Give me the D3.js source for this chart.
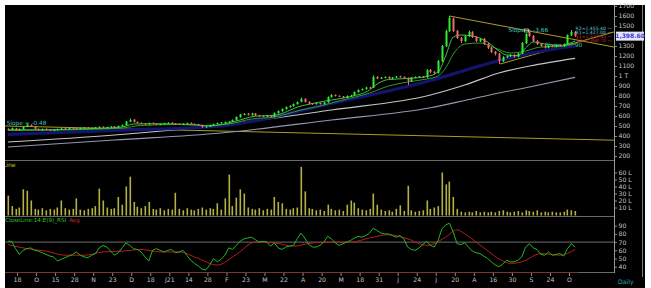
<!DOCTYPE html>
<html>
<head>
<meta charset="utf-8">
<script src="https://cdn.jsdelivr.net/npm/d3@7"></script>
<style>
body { margin: 0; background: #fff; }
svg { display: block; font-family: "DejaVu Sans", Verdana, sans-serif; }
</style>
</head>
<body>
<script>
// daily candles, oldest first (price in rupees)
var opens = [470,462,478,458,468,492,512,498,472,458,
    472,466,452,458,468,478,468,482,480,470,
    478,487,476,480,486,494,483,488,497,486,
    498,508,542,565,542,532,527,518,532,527,
    513,518,526,534,527,522,516,523,532,522,
    517,510,488,493,508,518,528,533,538,543,
    558,588,612,624,608,627,607,602,593,607,
    592,628,648,668,688,698,718,742,772,742,
    727,718,732,718,737,788,812,802,797,783,
    798,807,838,858,868,887,885,992,973,983,
    992,973,983,997,992,982,948,983,988,997,
    987,1062,1042,1032,1148,1298,1448,1575,1452,1382,
    1348,1398,1442,1392,1348,1372,1322,1282,1242,1222,
    1148,1188,1198,1212,1193,1223,1328,1440,1402,1352,
    1322,1302,1283,1302,1293,1312,1298,1318,1408,1442];
var highs = [478,485,482,475,495,520,515,500,475,475,
    476,468,463,474,480,480,484,485,482,484,
    490,490,486,492,496,496,494,499,500,504,
    515,550,575,568,545,535,530,534,535,530,
    524,532,537,537,530,525,528,534,535,525,
    520,512,500,514,524,534,540,545,550,566,
    596,620,630,628,632,630,612,606,610,610,
    636,656,676,696,708,726,746,785,776,746,
    730,735,736,740,796,818,815,806,800,806,
    812,846,866,876,892,892,1005,998,990,996,
    995,990,1000,1002,995,985,990,996,1000,1000,
    1068,1070,1048,1160,1310,1465,1600,1585,1460,1390,
    1410,1455,1448,1398,1380,1380,1330,1290,1250,1230,
    1198,1206,1218,1218,1232,1340,1430,1450,1408,1358,
    1328,1308,1306,1308,1316,1316,1326,1416,1460,1448];
var lows = [458,458,450,454,464,488,496,466,455,455,
    460,450,448,455,465,465,465,474,468,467,
    475,474,473,477,483,481,480,484,484,482,
    495,505,538,535,525,520,515,515,520,510,
    508,515,522,520,515,512,512,520,516,510,
    503,482,485,490,505,515,525,530,535,540,
    555,585,608,604,604,600,595,588,590,585,
    588,624,644,664,684,694,714,738,735,718,
    712,714,715,714,733,784,795,790,778,780,
    794,803,834,854,864,872,880,968,970,978,
    968,968,980,984,975,910,940,978,984,980,
    982,1030,1020,1025,1140,1290,1440,1440,1370,1330,
    1340,1390,1380,1340,1340,1310,1270,1230,1205,1120,
    1140,1180,1190,1185,1188,1218,1320,1390,1340,1310,
    1292,1275,1278,1288,1288,1295,1292,1312,1400,1392];
var closes = [465,480,455,470,490,515,500,470,460,470,
    465,455,460,470,475,470,480,478,472,480,
    485,478,482,488,492,485,490,495,488,500,
    510,545,560,540,530,525,520,530,525,515,
    520,528,532,525,520,518,525,530,520,515,
    508,490,495,510,520,530,535,540,545,560,
    590,615,620,610,625,605,600,595,605,590,
    630,650,670,690,700,720,740,770,740,725,
    720,730,720,735,790,810,800,795,785,800,
    805,840,860,870,885,880,990,975,985,990,
    975,985,995,990,980,950,985,990,995,985,
    1060,1040,1030,1150,1300,1450,1580,1450,1380,1350,
    1400,1440,1390,1350,1370,1320,1280,1240,1220,1150,
    1190,1200,1210,1195,1225,1330,1420,1400,1350,1320,
    1300,1285,1300,1295,1310,1300,1320,1410,1440,1399];

// volume in lakhs
var volumes = [27,12,8,10,36,34,20,8,7,9,
    6,8,7,10,20,9,7,8,23,7,
    6,8,9,12,37,20,10,8,9,25,
    14,40,54,18,11,9,12,18,8,7,
    9,6,8,7,31,8,6,9,7,6,
    8,10,7,9,8,16,7,23,57,12,
    24,36,30,10,8,7,9,6,8,7,
    25,18,16,8,7,9,10,68,33,9,
    8,6,7,5,14,8,6,7,5,14,
    20,17,9,7,6,8,30,14,7,5,
    6,4,8,13,5,41,6,4,5,6,
    20,8,10,12,60,43,47,25,8,4,
    3,4,3,5,3,4,3,4,3,5,
    6,4,3,4,5,3,6,5,4,6,
    3,4,3,4,3,3,4,7,6,5];

// RSI(14) per candle and its E(9) average, [candle, value]
var rsi = [71,71,62,55,60,62,63,60,59,57,
    55,53,52,47,49,51,53,55,58,54,
    52,51,54,56,63,66,64,59,54,57,
    63,69,66,62,61,58,52,47,60,62,
    60,58,60,61,57,58,60,54,48,44,
    41,37,36,42,50,46,49,54,63,61,
    66,71,74,75,76,73,70,71,70,65,
    69,63,61,64,65,66,74,81,75,67,
    64,64,66,70,77,74,69,66,68,70,
    72,75,77,76,78,81,87,84,81,80,
    80,78,76,78,74,64,61,60,63,67,
    71,66,64,72,86,91,93,82,68,67,
    69,64,59,57,56,53,50,46,42,40,
    43,48,46,46,48,52,64,68,63,61,
    55,54,58,54,55,56,53,62,68,64];
var rsiAvg = [[0,67],[5,62],[10,59],[15,54],[20,54],[25,58],[30,59],[35,61],[40,58],[45,58],
    [50,50],[55,42],[60,55],[65,70],[70,69],[75,65],[80,69],[85,70],[90,70],[95,75],
    [100,79],[105,74],[110,66],[115,76],[118,85],[120,80],[125,63],[130,47],[132,44],
    [135,46],[140,56],[145,54],[149,61]];

// moving averages, [candle, price]
var emaFast = [[0,462],[10,462],[20,472],[30,490],[33,520],[40,522],[50,510],[53,500],[60,550],
    [65,598],[70,607],[77,700],[80,725],[85,760],[90,795],[95,860],[97,920],[100,965],[105,975],
    [110,995],[113,1040],[115,1200],[117,1390],[119,1410],[122,1400],[126,1340],[129,1250],
    [131,1210],[134,1205],[136,1280],[138,1340],[141,1320],[145,1305],[149,1350]];
var emaSlow = [[0,455],[10,458],[20,465],[30,480],[35,505],[45,515],[52,505],[58,520],[64,570],
    [70,590],[77,660],[82,700],[88,760],[95,830],[100,900],[105,940],[110,970],[113,1000],
    [115,1080],[117,1220],[120,1320],[124,1330],[128,1280],[132,1230],[136,1250],[140,1290],
    [145,1295],[149,1320]];
var maBlue = [[0,415],[28,455],[56,500],[85,725],[111,955],[120,1055],[129,1155],[137,1225],[149,1300]];
var maWhite = [[0,340],[28,410],[56,510],[85,660],[111,810],[120,910],[129,1030],[137,1100],[149,1177]];
var maGrey = [[0,290],[28,360],[56,430],[85,560],[111,683],[120,755],[129,830],[137,890],[149,987]];

// drawn trend lines, [candle, price]
var trendLong = [[-0.7, 500], [159.2, 358]];
var trendTop = [[116, 1600], [159.2, 1290]];
var trendRise = [[129.3, 1120], [159.2, 1440]];

var pivotNames = ['R2', 'R1', 'S1', 'S2'];
var pivotValues = [1455.40, 1427.00, 1379.65, 1360.70];
var lastPrice = 1398.60;

// 1400 sits under the last price box
var priceTicks = [200,300,400,500,600,700,800,900,1000,1100,1200,1300,1500,1600,1700];
var volTicks = [10,20,30,40,50,60];
var rsiTicks = [40,50,60,70,80,90];
var tickLabels = ['18','O','15','28','N','23','D','18','J21','14','28','F','23','M','22',
    'A','20','M','18','31','J','24','J','20','A','16','30','S','24','O'];
var tickFirst = 2.4, tickStep = 5;

var width = 651, height = 288;
var axisX = 614;
var N = closes.length;

var svg = d3.select('body').append('svg')
    .attr('width', width)
    .attr('height', height);

svg.append('rect')
    .attr('x', 5).attr('y', 5)
    .attr('width', 640).attr('height', 283)
    .attr('fill', '#000');

// scales for the three panels
var x = d3.scaleLinear().domain([-0.5, N - 0.5]).range([6, 577]);
var yPrice = d3.scaleLinear().domain([200, 1700]).range([156, 6]);
var yVol = d3.scaleLinear().domain([0, 60]).range([214.5, 172.5]);
var yRsi = d3.scaleLinear().domain([40, 90]).range([266.7, 225.7]);

svg.append('clipPath').attr('id', 'pclip')
    .append('rect').attr('x', 5).attr('y', 5).attr('width', axisX - 5).attr('height', 155);

// panel separators and guide lines
svg.append('line').attr('x1', 5).attr('x2', axisX).attr('y1', 160.5).attr('y2', 160.5)
    .attr('stroke', '#6a6a6a');
svg.append('line').attr('x1', 5).attr('x2', axisX).attr('y1', 216.5).attr('y2', 216.5)
    .attr('stroke', '#6a6a6a');
svg.append('line').attr('x1', 5).attr('x2', axisX).attr('y1', yRsi(70)).attr('y2', yRsi(70))
    .attr('stroke', '#6e6e6e');
svg.append('line').attr('x1', 5).attr('x2', axisX).attr('y1', 272.5).attr('y2', 272.5)
    .attr('stroke', '#6a6a6a');
svg.append('line').attr('x1', axisX + 0.5).attr('x2', axisX + 0.5).attr('y1', 5).attr('y2', 273)
    .attr('stroke', '#9a9a9a');
svg.append('line').attr('x1', 642.5).attr('x2', 642.5).attr('y1', 5).attr('y2', 277)
    .attr('stroke', '#7a7a7a');

var price = svg.append('g').attr('clip-path', 'url(#pclip)');

var seg = d3.line()
    .x(function(d) { return x(d[0]); })
    .y(function(d) { return yPrice(d[1]); });

[trendLong, trendTop, trendRise].forEach(function(t) {
    price.append('path').attr('d', seg(t))
        .attr('fill', 'none').attr('stroke', '#a89e22').attr('stroke-width', 1);
});

// slope captions
var cyan = '#3cc4c4';
price.append('text').attr('x', x(-0.3)).attr('y', yPrice(510))
    .attr('fill', cyan).style('font-size', '5.8px').text('Slope = -0.48');
price.append('text').attr('x', x(131.5)).attr('y', yPrice(1440))
    .attr('fill', cyan).style('font-size', '5.8px').text('Slope = -3.66');
price.append('rect').attr('x', x(136.2) - 2).attr('y', yPrice(1470)).attr('width', 4).attr('height', 3)
    .attr('fill', 'none').attr('stroke', '#e0e0e0').attr('stroke-width', 0.7);
price.append('text').attr('x', x(141)).attr('y', yPrice(1290))
    .attr('fill', cyan).style('font-size', '5.8px').text('Slope = 3.90');

// moving averages
var curve = d3.line()
    .x(function(d) { return x(d[0]); })
    .y(function(d) { return yPrice(d[1]); })
    .curve(d3.curveMonotoneX);

var maStyles = [
    [maGrey, '#9696ae', 1.1],
    [maWhite, '#c4c4c4', 1.2],
    [maBlue, '#14146e', 3.2],
    [emaSlow, '#2f9a2f', 1],
    [emaFast, '#45c045', 1]
];
maStyles.forEach(function(m) {
    price.append('path').attr('d', curve(m[0]))
        .attr('fill', 'none').attr('stroke', m[1]).attr('stroke-width', m[2]);
});

// candles
var idx = d3.range(N);
var candle = price.append('g').selectAll('g')
    .data(idx)
    .enter().append('g')
    .attr('stroke', function(i) { return closes[i] >= opens[i] ? '#2cf02c' : '#f06a6a'; })
    .attr('fill', function(i) { return closes[i] >= opens[i] ? '#2cf02c' : '#f06a6a'; });

candle.append('line')
    .attr('x1', function(i) { return Math.round(x(i)) + 0.5; })
    .attr('x2', function(i) { return Math.round(x(i)) + 0.5; })
    .attr('y1', function(i) { return yPrice(highs[i]); })
    .attr('y2', function(i) { return yPrice(lows[i]); })
    .attr('stroke-width', 1);

candle.append('rect')
    .attr('stroke', 'none')
    .attr('x', function(i) { return Math.round(x(i)) - 0.5; })
    .attr('width', 2)
    .attr('y', function(i) { return yPrice(Math.max(opens[i], closes[i])); })
    .attr('height', function(i) {
        return Math.max(1, Math.abs(yPrice(opens[i]) - yPrice(closes[i])));
    });

// pivot levels at the right, stacked so they stay readable
svg.append('g').selectAll('text')
    .data(pivotValues)
    .enter().append('text')
    .attr('x', 612)
    .attr('y', function(d, i) { return 29.5 + i * 4.2; })
    .attr('text-anchor', 'end')
    .attr('fill', function(d, i) { return i < 2 ? '#5ac8d8' : '#c02a2a'; })
    .style('font-size', '4.6px')
    .text(function(d, i) { return pivotNames[i] + '=' + d3.format(',.2f')(d) + ' \u2014'; });

// volume panel
svg.append('g').selectAll('rect')
    .data(volumes)
    .enter().append('rect')
    .attr('x', function(d, i) { return Math.round(x(i)) - 0.5; })
    .attr('width', 1.6)
    .attr('y', function(d) { return yVol(d); })
    .attr('height', function(d) { return yVol(0) - yVol(d) + 1; })
    .attr('fill', '#b4b044');

svg.append('text').attr('x', 3).attr('y', 166.5)
    .attr('fill', '#c8c428').style('font-size', '6px').text('Line');
svg.append('rect').attr('x', 0).attr('y', 160).attr('width', 5).attr('height', 10).attr('fill', '#fff');

// RSI panel
var rsiLine = d3.line()
    .x(function(d, i) { return x(i); })
    .y(function(d) { return yRsi(d); });
var avgLine = d3.line()
    .x(function(d) { return x(d[0]); })
    .y(function(d) { return yRsi(d[1]); })
    .curve(d3.curveMonotoneX);

svg.append('path').attr('d', avgLine(rsiAvg))
    .attr('fill', 'none').attr('stroke', '#b81c1c').attr('stroke-width', 1);
svg.append('path').attr('d', rsiLine(rsi))
    .attr('fill', 'none').attr('stroke', '#22b822').attr('stroke-width', 1);

var rsiTitle = svg.append('text').attr('x', 5).attr('y', 222).style('font-size', '5.6px');
rsiTitle.append('tspan').attr('fill', '#2cc02c').text('CloseLine:14:E(9)_RSI');
rsiTitle.append('tspan').attr('fill', '#d02a2a').attr('dx', 3).text('Avg');

// x axis
svg.append('line').attr('x1', 5).attr('x2', x(N - 0.5) + 2).attr('y1', 272.5).attr('y2', 272.5)
    .attr('stroke', '#7c3434');

var tickPos = tickLabels.map(function(d, k) { return tickFirst + k * tickStep; });
var xAxis = d3.axisBottom(x)
    .tickValues(tickPos)
    .tickSize(3)
    .tickPadding(2)
    .tickFormat(function(d, k) { return tickLabels[k]; });

function styleAxis(g) {
    g.select('.domain').remove();
    g.selectAll('line').attr('stroke', '#8c8c8c');
    g.selectAll('text').attr('fill', '#c4c4c4').style('font-size', '6.2px')
        .style('font-family', '"DejaVu Sans", Verdana, sans-serif');
}

svg.append('g').attr('transform', 'translate(0,273)').call(xAxis).call(styleAxis);

// right hand axes
var priceAxis = d3.axisRight(yPrice).tickValues(priceTicks).tickSize(3).tickPadding(1.5)
    .tickFormat(function(d) { return d === 1000 ? '1 T' : d; });
var volAxis = d3.axisRight(yVol).tickValues(volTicks).tickSize(3).tickPadding(1.5)
    .tickFormat(function(d) { return d + ' L'; });
var rsiAxis = d3.axisRight(yRsi).tickValues(rsiTicks).tickSize(3).tickPadding(1.5);

[priceAxis, volAxis, rsiAxis].forEach(function(a) {
    svg.append('g').attr('transform', 'translate(' + axisX + ',0)').call(a).call(styleAxis);
});

// last price marker
var lp = svg.append('g').attr('transform', 'translate(616,' + yPrice(lastPrice) + ')');
lp.append('rect').attr('x', 0).attr('y', -4.5).attr('width', 28).attr('height', 9)
    .attr('fill', '#e4e4fb');
lp.append('text').attr('x', 14).attr('y', 2.2).attr('text-anchor', 'middle')
    .attr('fill', '#3a3ad0').style('font-size', '6px').style('font-weight', 'bold')
    .text(d3.format(',.2f')(lastPrice));

svg.append('text').attr('x', 618).attr('y', 284)
    .attr('fill', '#2aa8b0').style('font-size', '6.2px').text('Daily');
</script>
</body>
</html>
